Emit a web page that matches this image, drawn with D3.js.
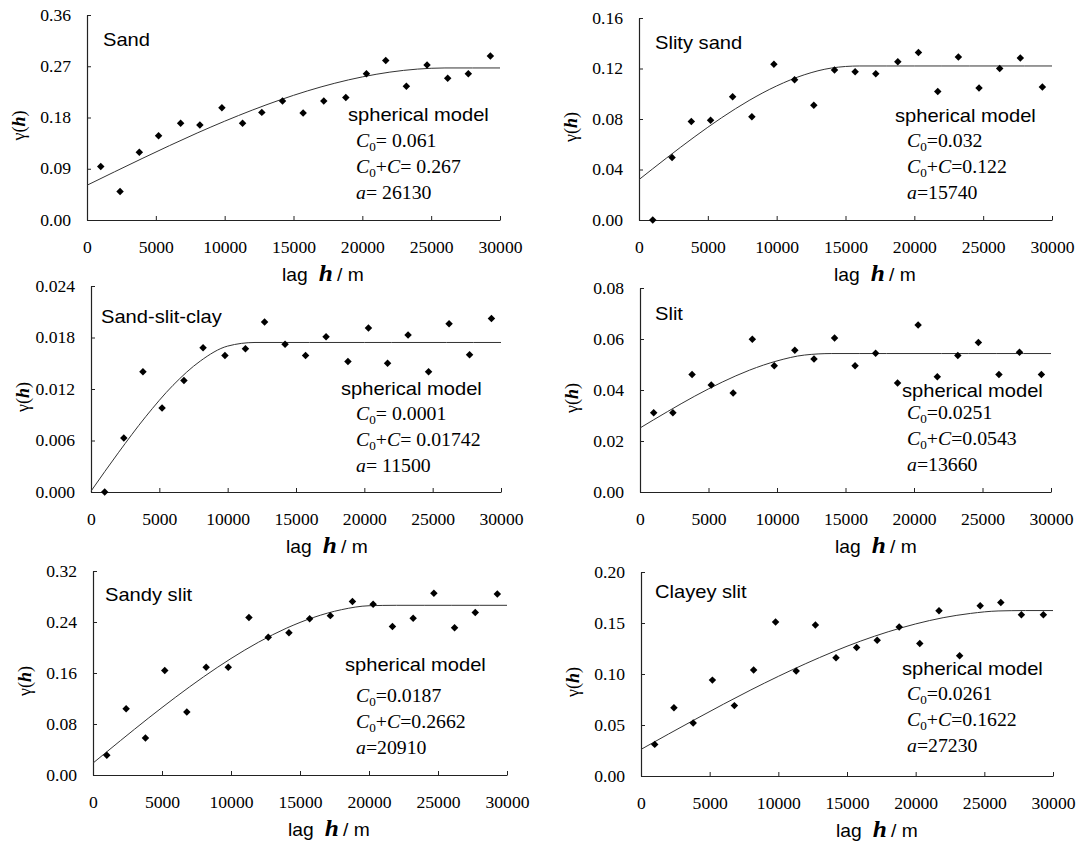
<!DOCTYPE html>
<html>
<head>
<meta charset="utf-8">
<script src="https://cdn.jsdelivr.net/npm/d3@7"></script>
<style>
  body { margin: 0; background: #fff; }
  svg { display: block; }
</style>
</head>
<body>
<div id="chart"></div>
<script>
// lag distances shared by all six experimental variograms
const lags = [1000, 2400, 3800, 5200, 6800, 8200, 9800, 11300, 12700, 14200,
  15700, 17200, 18800, 20300, 21700, 23200, 24700, 26200, 27700, 29300];

const sandVals = [0.094, 0.050, 0.119, 0.148, 0.170, 0.167, 0.197, 0.170, 0.189, 0.209,
  0.188, 0.209, 0.215, 0.257, 0.280, 0.235, 0.272, 0.249, 0.257, 0.288];
const slitySandVals = [0.000, 0.0495, 0.078, 0.079, 0.0976, 0.0818, 0.1234, 0.1111, 0.0908, 0.1189,
  0.1174, 0.1158, 0.1253, 0.1326, 0.1018, 0.1292, 0.1045, 0.120, 0.1284, 0.1053];
const sandSlitClayVals = [0.0000, 0.0063, 0.0140, 0.0098, 0.0130, 0.0168, 0.0159, 0.0167, 0.0198, 0.0172,
  0.0159, 0.0181, 0.0152, 0.0191, 0.0150, 0.0183, 0.0140, 0.0196, 0.0160, 0.0202];
const slitVals = [0.0311, 0.0311, 0.0461, 0.0420, 0.0388, 0.0599, 0.0495, 0.0556, 0.0522, 0.0604,
  0.0495, 0.0544, 0.0427, 0.0655, 0.0452, 0.0535, 0.0586, 0.0461, 0.0548, 0.0461];
const sandySlitVals = [0.031, 0.104, 0.058, 0.164, 0.099, 0.169, 0.169, 0.247, 0.216, 0.223,
  0.245, 0.250, 0.272, 0.268, 0.233, 0.246, 0.285, 0.231, 0.255, 0.284];
const clayeySlitVals = [0.031, 0.067, 0.052, 0.094, 0.069, 0.104, 0.151, 0.103, 0.148, 0.116,
  0.126, 0.133, 0.146, 0.130, 0.162, 0.118, 0.167, 0.170, 0.158, 0.158];

// fitted model line, read at every 2000 m
const modelLags = [0, 2000, 4000, 6000, 8000, 10000, 12000, 14000, 16000,
  18000, 20000, 22000, 24000, 26000, 28000, 30000];
const sandModel = [0.061, 0.0846, 0.1079, 0.1307, 0.1527, 0.1735, 0.1929, 0.2107, 0.2266,
  0.2402, 0.2513, 0.2597, 0.2650, 0.2670, 0.267, 0.267];
const slitySandModel = [0.032, 0.0491, 0.0656, 0.0810, 0.0947, 0.1062, 0.1150, 0.1204, 0.122,
  0.122, 0.122, 0.122, 0.122, 0.122, 0.122, 0.122];
const sandSlitClayModel = [0.0001, 0.00457, 0.00877, 0.01243, 0.01526, 0.01700, 0.01742, 0.01742, 0.01742,
  0.01742, 0.01742, 0.01742, 0.01742, 0.01742, 0.01742, 0.01742];
const slitModel = [0.0251, 0.0315, 0.0376, 0.0431, 0.0478, 0.0514, 0.0537, 0.0543, 0.0543,
  0.0543, 0.0543, 0.0543, 0.0543, 0.0543, 0.0543, 0.0543];
const sandySlitModel = [0.0187, 0.0541, 0.0889, 0.1223, 0.1538, 0.1827, 0.2084, 0.2301, 0.2473,
  0.2593, 0.2655, 0.2662, 0.2662, 0.2662, 0.2662, 0.2662];
const clayeySlitModel = [0.0261, 0.0411, 0.0559, 0.0704, 0.0844, 0.0977, 0.1102, 0.1218, 0.1323,
  0.1414, 0.1491, 0.1552, 0.1594, 0.1618, 0.1622, 0.1622];

const titles = ["Sand", "Slity sand", "Sand-slit-clay", "Slit", "Sandy slit", "Clayey slit"];
const nuggetLabels = ["0.061", "0.032", "0.0001", "0.0251", "0.0187", "0.0261"];
const sillLabels = ["0.267", "0.122", "0.01742", "0.0543", "0.2662", "0.1622"];
const rangeLabels = ["26130", "15740", "11500", "13660", "20910", "27230"];
const eqSigns = ["= ", "=", "= ", "=", "=", "="];

const xTicks = [0, 5000, 10000, 15000, 20000, 25000, 30000];
const yTicks = [
  [0, 0.09, 0.18, 0.27, 0.36],
  [0, 0.04, 0.08, 0.12, 0.16],
  [0, 0.006, 0.012, 0.018, 0.024],
  [0, 0.02, 0.04, 0.06, 0.08],
  [0, 0.08, 0.16, 0.24, 0.32],
  [0, 0.05, 0.10, 0.15, 0.20]
];
const yFormats = [".2f", ".2f", ".3f", ".2f", ".2f", ".2f"];

const series = [sandVals, slitySandVals, sandSlitClayVals, slitVals, sandySlitVals, clayeySlitVals];
const models = [sandModel, slitySandModel, sandSlitClayModel, slitModel, sandySlitModel, clayeySlitModel];

// panel frames in pixels, plus where the captions sit relative to the frame
const frames = [
  { x0: 87,  x1: 500,  top: 15,  bot: 220, title: [16, 31], model: [261, 106], params: [269, 132] },
  { x0: 639, x1: 1052, top: 18,  bot: 220, title: [16, 31], model: [256, 104], params: [268, 129] },
  { x0: 91,  x1: 501,  top: 286, bot: 492, title: [10, 37], model: [250, 109], params: [265, 134] },
  { x0: 640, x1: 1051, top: 288, bot: 492, title: [15, 32], model: [262, 109], params: [267, 131] },
  { x0: 93,  x1: 507,  top: 571, bot: 775, title: [12, 30], model: [252, 100], params: [263, 131] },
  { x0: 641, x1: 1053, top: 572, bot: 776, title: [14, 26], model: [261, 103], params: [266, 128] }
];

const SANS = "'Liberation Sans', Arial, sans-serif";
const SERIF = "'Liberation Serif', 'Times New Roman', serif";
const STRETCH = 1.1;  // the source picture is a little wider than tall
const WIDE = 1.15;    // captions look a bit wider still

const svg = d3.select("#chart").append("svg")
  .attr("width", 1082)
  .attr("height", 843);

frames.forEach((f, i) => {
  const x = d3.scaleLinear().domain([0, 30000]).range([f.x0, f.x1]);
  const yt = yTicks[i];
  const y = d3.scaleLinear().domain([0, yt[yt.length - 1]]).range([f.bot, f.top]);
  const g = svg.append("g");

  // axes, ticks pointing inward like the original
  const xAxis = g.append("g")
    .attr("transform", `translate(0,${f.bot})`)
    .call(d3.axisBottom(x).tickValues(xTicks).tickFormat(d3.format("d"))
      .tickSizeInner(-4).tickSizeOuter(0).tickPadding(22));
  const yAxis = g.append("g")
    .attr("transform", `translate(${f.x0},0)`)
    .call(d3.axisLeft(y).tickValues(yt).tickFormat(d3.format(yFormats[i]))
      .tickSizeInner(-4).tickSizeOuter(0).tickPadding(16));

  [xAxis, yAxis].forEach(a => {
    a.attr("font-family", null).attr("font-size", null);
    a.select(".domain").attr("stroke", "#222").attr("stroke-width", 1.2);
    a.selectAll(".tick line").attr("stroke", "#222");
    a.selectAll(".tick text")
      .style("font-family", SERIF)
      .style("font-size", "16px")
      .attr("fill", "#000");
  });
  xAxis.selectAll(".tick text").attr("transform", `scale(${STRETCH},1)`);
  yAxis.selectAll(".tick text")
    .attr("x", -16 / STRETCH)
    .attr("transform", `scale(${STRETCH},1)`);

  // fitted spherical model
  g.append("path")
    .datum(modelLags.map((h, k) => [h, models[i][k]]))
    .attr("fill", "none")
    .attr("stroke", "#333")
    .attr("stroke-width", 1)
    .attr("d", d3.line().x(d => x(d[0])).y(d => y(d[1])).curve(d3.curveMonotoneX));

  // experimental points as black diamonds
  g.selectAll("path.pt")
    .data(lags.map((h, k) => [h, series[i][k]]))
    .join("path")
    .attr("class", "pt")
    .attr("d", d3.symbol().type(d3.symbolSquare).size(28))
    .attr("transform", d => `translate(${x(d[0])},${y(d[1])}) rotate(45)`)
    .attr("fill", "#000");

  // panel title
  g.append("text")
    .attr("transform", `translate(${f.x0 + f.title[0]},${f.top + f.title[1]}) scale(${WIDE},1)`)
    .style("font-family", SANS)
    .style("font-size", "17.5px")
    .text(titles[i]);

  g.append("text")
    .attr("transform", `translate(${f.x0 + f.model[0]},${f.top + f.model[1]}) scale(${WIDE},1)`)
    .style("font-family", SANS)
    .style("font-size", "17.5px")
    .text("spherical model");

  // model parameters
  const lines = [
    [["C", "i"], ["0", "s"], [eqSigns[i] + nuggetLabels[i], ""]],
    [["C", "i"], ["0", "s"], ["+", ""], ["C", "i"], [eqSigns[i] + sillLabels[i], ""]],
    [["a", "i"], [eqSigns[i] + rangeLabels[i], ""]]
  ];
  lines.forEach((segs, l) => {
    const t = g.append("text")
      .attr("transform", `translate(${f.x0 + f.params[0]},${f.top + f.params[1] + l * 26}) scale(${STRETCH},1)`)
      .style("font-family", SERIF)
      .style("font-size", "18px");
    let shifted = false;
    segs.forEach(([s, kind]) => {
      const ts = t.append("tspan").text(s);
      if (kind === "i") ts.style("font-style", "italic");
      if (kind === "s") {
        ts.style("font-size", "12px").attr("dy", 4);
        shifted = true;
      } else if (shifted) {
        ts.attr("dy", -4);
        shifted = false;
      }
    });
  });

  // axis titles
  const xl = g.append("text")
    .attr("transform", `translate(${f.x0 + 195},${f.bot + 61}) scale(${STRETCH},1)`)
    .style("font-family", SANS)
    .style("font-size", "17.5px");
  xl.append("tspan").text("lag");
  xl.append("tspan").attr("dx", 10)
    .style("font-family", SERIF)
    .style("font-weight", "bold").style("font-style", "italic").style("font-size", "23px").text("h");
  xl.append("tspan").attr("dx", 4).text("/ m");

  const yl = g.append("text")
    .attr("transform", `translate(${f.x0 - 62},${(f.top + f.bot) / 2 + 8}) rotate(-90) scale(1,${STRETCH})`)
    .attr("text-anchor", "middle")
    .style("font-family", SERIF)
    .style("font-size", "18px");
  yl.append("tspan").text("γ(");
  yl.append("tspan").style("font-weight", "bold").style("font-style", "italic").text("h");
  yl.append("tspan").text(")");
});
</script>
</body>
</html>
